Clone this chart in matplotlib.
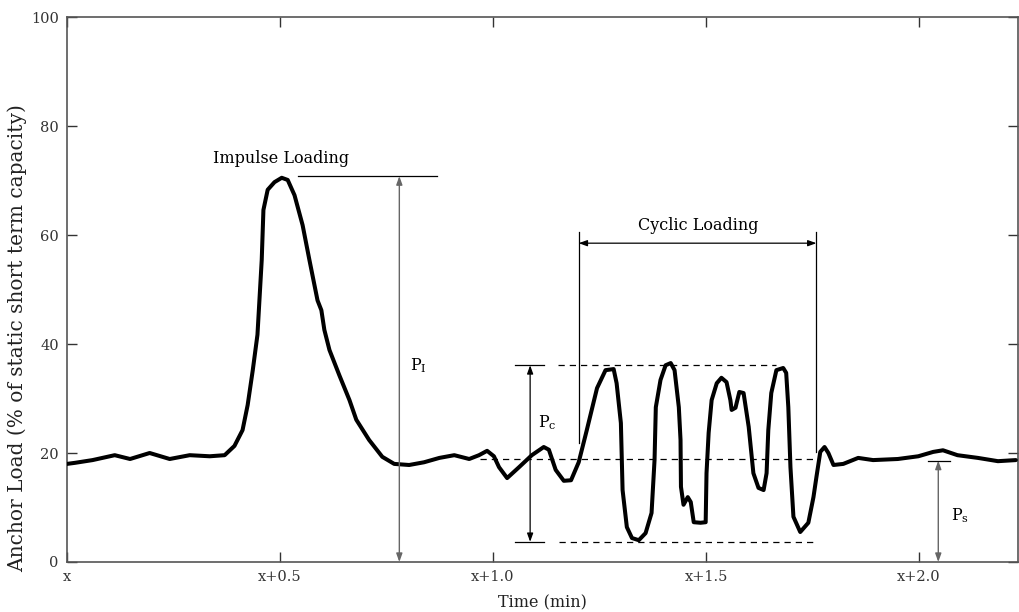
import matplotlib
matplotlib.use("Agg")
import matplotlib.pyplot as plt

plt.rcParams['font.family'] = ['DejaVu Serif']
plt.rcParams['mathtext.fontset'] = 'dejavuserif'

time = [0.0, 0.019, 0.06, 0.112, 0.148, 0.194, 0.241, 0.288, 0.335, 0.37, 0.393, 0.412, 0.424,
        0.436, 0.447, 0.457, 0.461, 0.471, 0.487, 0.504, 0.518, 0.534, 0.553, 0.569, 0.588,
        0.597, 0.604, 0.616, 0.639, 0.663, 0.679, 0.709, 0.74, 0.768, 0.803, 0.838, 0.874,
        0.909, 0.944, 0.967, 0.986, 1.002, 1.014, 1.033, 1.061, 1.091, 1.119, 1.131, 1.147,
        1.166, 1.183, 1.201, 1.22, 1.244, 1.264, 1.283, 1.29, 1.3, 1.304, 1.314, 1.326,
        1.342, 1.358, 1.372, 1.379, 1.382, 1.393, 1.405, 1.417, 1.426, 1.436, 1.44, 1.441,
        1.447, 1.457, 1.464, 1.471, 1.487, 1.499, 1.501, 1.506, 1.513, 1.525, 1.536, 1.548,
        1.557, 1.56, 1.569, 1.578, 1.588, 1.6, 1.611, 1.623, 1.635, 1.642, 1.646, 1.653,
        1.665, 1.681, 1.688, 1.693, 1.698, 1.705, 1.721, 1.74, 1.752, 1.759, 1.768, 1.778,
        1.787, 1.799, 1.822, 1.857, 1.892, 1.95, 1.998, 2.033, 2.056, 2.09, 2.138, 2.185, 2.227]
load = [18.0, 18.2, 18.7, 19.6, 18.9, 20.0, 18.9, 19.6, 19.4, 19.6, 21.3, 24.2, 28.8,
        35.2, 41.7, 55.4, 64.6, 68.3, 69.7, 70.5, 70.1, 67.3, 61.8, 55.4, 48.0,
        46.2, 42.6, 38.9, 34.3, 29.7, 26.1, 22.4, 19.3, 18.0, 17.8, 18.3, 19.1,
        19.6, 18.9, 19.6, 20.4, 19.4, 17.4, 15.4, 17.4, 19.6, 21.1, 20.6, 16.9,
        14.9, 15.0, 18.3, 24.2, 31.9, 35.2, 35.4, 32.8, 25.5, 13.2, 6.4, 4.4,
        4.0, 5.3, 9.0, 18.7, 28.4, 33.4, 36.1, 36.5, 35.2, 28.4, 22.4, 13.8,
        10.5, 11.9, 11.0, 7.3, 7.2, 7.3, 16.3, 23.7, 29.7, 32.8, 33.8, 33.0,
        29.7, 27.9, 28.3, 31.2, 31.0, 24.8, 16.3, 13.6, 13.2, 16.3, 24.2, 31.0,
        35.2, 35.6, 34.7, 28.4, 17.4, 8.3, 5.5, 7.2, 11.9, 15.6, 20.2, 21.1,
        20.0, 17.8, 18.0, 19.1, 18.7, 18.9, 19.4, 20.2, 20.5, 19.6, 19.1, 18.5, 18.7]

xticks = [0.0, 0.5, 1.0, 1.5, 2.0]
xticklabels = ['x', 'x+0.5', 'x+1.0', 'x+1.5', 'x+2.0']
yticks = [0, 20, 40, 60, 80, 100]

fig = plt.figure(figsize=(10.2, 6.12), dpi=100)
ax = fig.add_axes([0.0657, 0.0817, 0.9323, 0.8905])
ax.plot(time, load, color='black', lw=2.9, solid_joinstyle='round', solid_capstyle='round', zorder=3)

ax.set_xlim(0, 2.232)
ax.set_ylim(0, 100)
ax.set_xticks(xticks)
ax.set_xticklabels(xticklabels)
ax.set_yticks(yticks)
ax.tick_params(direction='in', length=7, width=1, top=True, right=True, labelsize=10.5,
               colors='#333333')
ax.tick_params(axis='x', pad=6)
ax.tick_params(axis='y', pad=6)
for s in ax.spines.values():
    s.set_color('#555555')
    s.set_linewidth(1.2)
ax.set_xlabel('Time (min)', fontsize=11.5, labelpad=7, color='#222222')
ax.set_ylabel('Anchor Load (% of static short term capacity)', fontsize=14.5, color='#222222')
ax.yaxis.set_label_coords(-0.042, 0.41)

gray = '#666666'
ap_gray = dict(arrowstyle='<|-|>,head_length=0.5,head_width=0.18', color=gray, lw=1.0, shrinkA=0, shrinkB=0)
ap_black = dict(arrowstyle='<|-|>,head_length=0.5,head_width=0.18', color='black', lw=0.9, shrinkA=0, shrinkB=0)

# Impulse loading
ax.text(0.503, 74.0, 'Impulse Loading', ha='center', va='center', fontsize=11.5)
ax.plot([0.543, 0.869], [70.8, 70.8], color='black', lw=0.9)
ax.annotate('', xy=(0.78, 70.8), xytext=(0.78, 0.0), arrowprops=ap_gray)
ax.text(0.805, 36.0, r'P$_\mathregular{I}$', ha='left', va='center', fontsize=11.5)

# Cyclic loading
ax.plot([1.201, 1.201], [21.8, 60.5], color='black', lw=0.9)
ax.plot([1.759, 1.759], [20.2, 60.5], color='black', lw=0.9)
ax.annotate('', xy=(1.201, 58.5), xytext=(1.759, 58.5), arrowprops=ap_black)
ax.text(1.482, 61.8, 'Cyclic Loading', ha='center', va='center', fontsize=11.5)

# Dashed reference lines
ax.plot([1.052, 1.12], [36.1, 36.1], color='black', lw=0.9)
ax.plot([1.152, 1.665], [36.1, 36.1], color='black', lw=0.9, dashes=(5, 4))
ax.plot([1.052, 1.12], [3.7, 3.7], color='black', lw=0.9)
ax.plot([1.155, 1.76], [3.7, 3.7], color='black', lw=0.9, dashes=(5, 4))
ax.plot([0.97, 1.76], [18.9, 18.9], color='black', lw=0.9, dashes=(5, 4))
ax.annotate('', xy=(1.087, 36.1), xytext=(1.087, 3.7), arrowprops=ap_black)
ax.text(1.105, 25.5, r'P$_\mathregular{c}$', ha='left', va='center', fontsize=11.5)

# Static
ax.plot([2.022, 2.072], [18.6, 18.6], color='black', lw=0.9)
ax.annotate('', xy=(2.045, 18.6), xytext=(2.045, 0.0), arrowprops=ap_gray)
ax.text(2.075, 8.5, r'P$_\mathregular{s}$', ha='left', va='center', fontsize=11.5)

fig.savefig('out.png', dpi=100)
